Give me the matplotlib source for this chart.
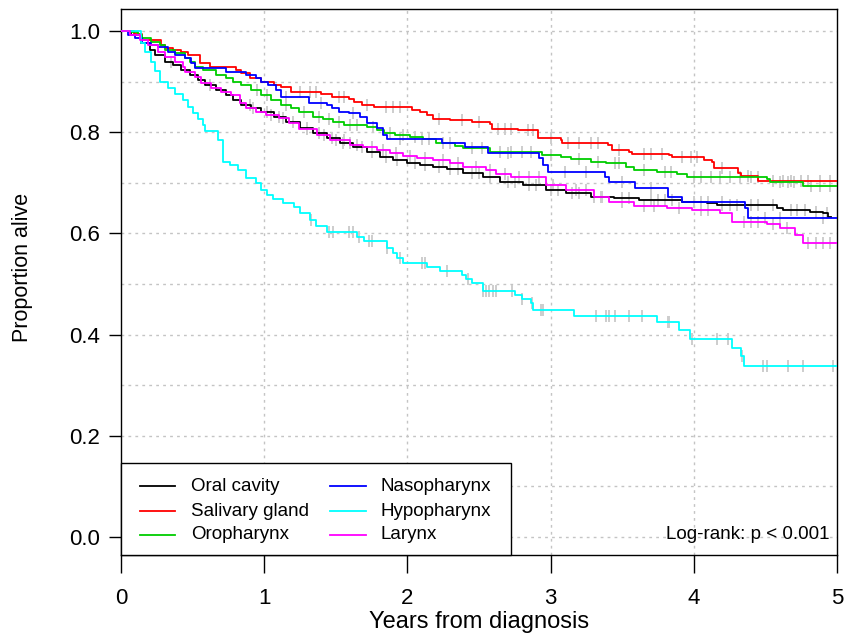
import numpy as np
import matplotlib
matplotlib.use("Agg")
import matplotlib.pyplot as plt
from matplotlib.patches import Rectangle

plt.rcParams['font.family'] = ['Liberation Sans', 'DejaVu Sans']

# ---- data ----
groups = ["Oral cavity", "Salivary gland", "Oropharynx", "Nasopharynx", "Hypopharynx", "Larynx"]
colors = ["#000000", "#FF0000", "#00CD00", "#0000FF", "#00FFFF", "#FF00FF"]

oral_t = [0, 0.07, 0.14, 0.20, 0.24, 0.31, 0.36, 0.42, 0.48, 0.54, 0.59, 0.66, 0.73, 0.78, 0.84, 0.91, 0.98,
          1.07, 1.15, 1.25, 1.34, 1.44, 1.53, 1.62, 1.72, 1.81, 1.90, 2.00, 2.09, 2.18, 2.28, 2.39, 2.53, 2.65,
          2.81, 2.97, 3.11, 3.28, 3.44, 3.62, 3.92, 4.09, 4.16, 4.58, 4.62, 4.81, 4.90, 4.94]
oral_s = [1.0, 0.992, 0.976, 0.962, 0.952, 0.939, 0.933, 0.923, 0.913, 0.903, 0.893, 0.883, 0.874, 0.864, 0.854,
          0.848, 0.840, 0.830, 0.820, 0.808, 0.798, 0.789, 0.779, 0.771, 0.761, 0.751, 0.745, 0.739, 0.735, 0.731,
          0.727, 0.719, 0.711, 0.702, 0.696, 0.686, 0.680, 0.672, 0.670, 0.666, 0.662, 0.660, 0.656, 0.650, 0.646,
          0.642, 0.640, 0.632]
oral_end = 4.96

saliv_t = [0, 0.09, 0.15, 0.28, 0.31, 0.36, 0.42, 0.47, 0.55, 0.62, 0.80, 0.84, 0.90, 0.98, 1.07, 1.12, 1.19,
           1.40, 1.47, 1.59, 1.63, 1.68, 1.77, 2.03, 2.09, 2.14, 2.18, 2.30, 2.45, 2.58, 2.59, 2.77, 2.91, 3.07,
           3.08, 3.40, 3.43, 3.55, 3.57, 3.83, 3.85, 4.07, 4.13, 4.14, 4.31, 4.33, 4.45]
saliv_s = [1.0, 0.994, 0.982, 0.972, 0.966, 0.962, 0.958, 0.952, 0.937, 0.929, 0.923, 0.917, 0.907, 0.899, 0.893,
           0.889, 0.879, 0.875, 0.870, 0.866, 0.860, 0.854, 0.850, 0.844, 0.840, 0.834, 0.826, 0.824, 0.820, 0.816,
           0.806, 0.804, 0.789, 0.785, 0.779, 0.775, 0.765, 0.761, 0.757, 0.755, 0.751, 0.745, 0.741, 0.729, 0.719,
           0.713, 0.703]
saliv_end = 5.0

oro_t = [0, 0.07, 0.12, 0.15, 0.21, 0.27, 0.31, 0.38, 0.45, 0.48, 0.52, 0.57, 0.66, 0.73, 0.78, 0.84, 0.91, 0.98,
         1.05, 1.12, 1.19, 1.24, 1.34, 1.41, 1.48, 1.56, 1.72, 1.79, 1.84, 1.91, 2.02, 2.11, 2.20, 2.33, 2.39, 2.58,
         2.94, 3.07, 3.14, 3.28, 3.39, 3.53, 3.58, 3.74, 3.88, 3.95, 4.51, 4.53, 4.76]
oro_s = [1.0, 0.998, 0.992, 0.986, 0.978, 0.972, 0.962, 0.957, 0.947, 0.939, 0.929, 0.923, 0.913, 0.907, 0.899,
         0.893, 0.883, 0.874, 0.864, 0.854, 0.848, 0.840, 0.830, 0.826, 0.820, 0.814, 0.810, 0.804, 0.798, 0.794,
         0.790, 0.786, 0.779, 0.773, 0.769, 0.761, 0.755, 0.751, 0.747, 0.741, 0.739, 0.731, 0.725, 0.721, 0.718,
         0.711, 0.708, 0.702, 0.694]
oro_end = 5.0

naso_t = [0, 0.05, 0.10, 0.15, 0.21, 0.26, 0.33, 0.38, 0.45, 0.49, 0.52, 0.73, 0.87, 0.94, 0.98, 1.03, 1.08, 1.12,
          1.31, 1.44, 1.47, 1.52, 1.59, 1.67, 1.72, 1.79, 1.83, 1.86, 2.24, 2.40, 2.56, 2.92, 2.95, 2.98, 3.38, 3.41,
          3.59, 3.82, 3.92, 4.36, 4.38]
naso_s = [1.0, 0.992, 0.986, 0.976, 0.972, 0.968, 0.958, 0.952, 0.947, 0.937, 0.927, 0.919, 0.913, 0.907, 0.899,
          0.893, 0.883, 0.870, 0.858, 0.854, 0.848, 0.840, 0.838, 0.830, 0.818, 0.808, 0.794, 0.787, 0.779, 0.771,
          0.759, 0.749, 0.735, 0.721, 0.711, 0.701, 0.689, 0.672, 0.662, 0.650, 0.630]
naso_end = 5.0

hypo_t = [0, 0.14, 0.17, 0.21, 0.24, 0.27, 0.33, 0.38, 0.43, 0.47, 0.50, 0.54, 0.57, 0.59, 0.68, 0.71, 0.76, 0.82,
          0.87, 0.94, 0.98, 1.02, 1.06, 1.13, 1.21, 1.25, 1.32, 1.36, 1.44, 1.65, 1.70, 1.86, 1.90, 1.93, 1.97, 2.14,
          2.23, 2.38, 2.41, 2.45, 2.53, 2.75, 2.80, 2.86, 2.88, 3.16, 3.74, 3.90, 3.97, 4.27, 4.33, 4.35]
hypo_s = [1.0, 0.976, 0.958, 0.939, 0.920, 0.899, 0.887, 0.875, 0.864, 0.850, 0.838, 0.826, 0.814, 0.802, 0.785,
          0.741, 0.735, 0.725, 0.709, 0.700, 0.686, 0.676, 0.668, 0.660, 0.652, 0.640, 0.626, 0.615, 0.603, 0.593,
          0.585, 0.571, 0.561, 0.552, 0.542, 0.534, 0.526, 0.518, 0.510, 0.502, 0.487, 0.478, 0.470, 0.462, 0.449,
          0.437, 0.425, 0.409, 0.391, 0.373, 0.358, 0.338]
hypo_end = 5.0

lar_t = [0, 0.06, 0.13, 0.19, 0.26, 0.31, 0.38, 0.43, 0.45, 0.52, 0.56, 0.63, 0.70, 0.77, 0.83, 0.87, 0.94, 1.01,
         1.10, 1.17, 1.24, 1.37, 1.46, 1.60, 1.69, 1.79, 1.88, 1.97, 2.07, 2.18, 2.30, 2.39, 2.55, 2.62, 2.72, 2.97,
         3.11, 3.30, 3.41, 3.58, 3.81, 3.99, 4.18, 4.27, 4.51, 4.60, 4.71, 4.76]
lar_s = [1.0, 0.992, 0.982, 0.972, 0.958, 0.949, 0.939, 0.929, 0.919, 0.909, 0.897, 0.887, 0.879, 0.874, 0.858,
         0.848, 0.840, 0.834, 0.828, 0.818, 0.806, 0.794, 0.785, 0.775, 0.771, 0.765, 0.759, 0.753, 0.749, 0.745,
         0.739, 0.731, 0.725, 0.718, 0.711, 0.696, 0.686, 0.672, 0.662, 0.654, 0.650, 0.646, 0.640, 0.623, 0.619,
         0.611, 0.597, 0.581]
lar_end = 5.0

# censoring times (approximate, read from grey tick marks)
oral_c = [0.35, 0.62, 0.90, 1.02, 1.10, 1.20, 1.30, 1.38, 1.47, 1.55, 1.60, 1.68, 1.75, 1.85, 1.93, 2.05, 2.12,
          2.22, 2.30, 2.35, 2.45, 2.50, 2.58, 2.70, 2.75, 2.85, 2.90, 3.00, 3.05, 3.15, 3.20, 3.30, 3.35, 3.50, 3.55,
          3.70, 3.75, 3.80, 3.85, 4.00, 4.05, 4.20, 4.25, 4.30, 4.40, 4.45, 4.55, 4.68, 4.72, 4.78, 4.85, 4.93]
saliv_c = [1.25, 1.32, 1.36, 1.52, 1.56, 1.72, 1.85, 1.90, 1.95, 2.22, 2.38, 2.50, 2.63, 2.68, 2.72, 2.84, 2.88,
           3.00, 3.12, 3.20, 3.28, 3.33, 3.48, 3.65, 3.70, 3.78, 3.92, 3.98, 4.02, 4.20, 4.38, 4.55, 4.62, 4.68,
           4.75, 4.80, 4.88, 4.95]
oro_c = [0.95, 1.02, 1.15, 1.28, 1.38, 1.45, 1.52, 1.60, 1.65, 1.76, 1.88, 1.97, 2.05, 2.15, 2.25, 2.45, 2.52,
         2.65, 2.72, 2.80, 2.86, 3.00, 3.20, 3.33, 3.45, 3.48, 3.65, 3.80, 3.84, 4.00, 4.05, 4.12, 4.18, 4.25, 4.32,
         4.40, 4.45, 4.60, 4.66, 4.70, 4.82, 4.88, 4.95]
naso_c = [1.15, 1.40, 1.62, 1.95, 2.10, 2.30, 2.70, 3.10, 3.25, 3.50, 3.70, 4.10, 4.20, 4.50, 4.60, 4.90]
hypo_c = [1.33, 1.45, 1.48, 1.59, 1.62, 1.66, 1.73, 1.75, 1.86, 1.95, 2.10, 2.12, 2.28, 2.42, 2.53, 2.55, 2.57,
          2.60, 2.62, 2.73, 2.80, 2.87, 2.93, 2.95, 3.32, 3.39, 3.41, 3.45, 3.55, 3.64, 3.82, 3.83, 3.99, 4.16,
          4.24, 4.34, 4.48, 4.51, 4.66, 4.76, 4.97]
lar_c = [0.92, 1.05, 1.13, 1.30, 1.42, 1.50, 1.56, 1.65, 1.75, 1.83, 1.92, 2.02, 2.12, 2.25, 2.35, 2.48, 2.58,
         2.68, 2.78, 2.85, 2.92, 3.02, 3.18, 3.25, 3.36, 3.50, 3.65, 3.72, 3.90, 4.05, 4.10, 4.35, 4.40, 4.45,
         4.55, 4.65, 4.80, 4.85, 4.90, 4.95]

curves = [(oral_t, oral_s, oral_end, oral_c), (saliv_t, saliv_s, saliv_end, saliv_c),
          (oro_t, oro_s, oro_end, oro_c), (naso_t, naso_s, naso_end, naso_c),
          (hypo_t, hypo_s, hypo_end, hypo_c), (lar_t, lar_s, lar_end, lar_c)]

xticks = [0, 1, 2, 3, 4, 5]
yticks = [0.0, 0.2, 0.4, 0.6, 0.8, 1.0]
ytick_labels = ["0.0", "0.2", "0.4", "0.6", "0.8", "1.0"]
pval_text = "Log-rank: p < 0.001"

# ---- figure ----
fig = plt.figure(figsize=(8.45, 6.35), dpi=100)
ax = fig.add_axes([121 / 845, 1 - 555 / 635, (837 - 121) / 845, (555 - 9) / 635])
ax.set_xlim(0, 5)
ax.set_ylim(-0.0356, 1.0435)

# grid
grid_kw = dict(color="#c4c4c4", lw=1.0, ls=(0, (2, 3)), zorder=0)
for gx in [1, 2, 3, 4]:
    ax.axvline(gx, **grid_kw)
for gy in np.arange(0, 11) / 10:
    ax.axhline(gy, **grid_kw)

def step_value(t, s, x):
    idx = np.searchsorted(np.asarray(t), np.asarray(x), side="right") - 1
    return np.asarray(s)[idx]

# censor marks first (grey), then lines
for (t, s, end, c) in curves:
    c_arr = np.asarray(c)
    ax.plot(c_arr, step_value(t, s, c_arr), ls="none", marker="|", ms=9, mew=1.4,
            color="#cdcdcd", zorder=2, clip_on=True)

for (t, s, end, c), col in zip(curves, colors):
    tt = list(t) + [end]
    ss = list(s) + [s[-1]]
    ax.step(tt, ss, where="post", color=col, lw=1.3, zorder=3)

# axes styling
for sp in ax.spines.values():
    sp.set_color("black")
    sp.set_linewidth(1.0)
ax.set_xticks(xticks)
ax.set_xticklabels([str(x) for x in xticks], fontsize=16)
ax.set_yticks(yticks)
ax.set_yticklabels(ytick_labels, fontsize=16)
ax.tick_params(axis="x", length=13, width=1, pad=11)
ax.tick_params(axis="y", length=9, width=1, pad=6)
ax.set_xlabel("Years from diagnosis", fontsize=17)
ax.xaxis.set_label_coords(0.5, -0.102)
ax.set_ylabel("Proportion alive", fontsize=15.5)
ax.yaxis.set_label_coords(-0.123, 0.527)

# legend (manual, R-style box)
ax.add_patch(Rectangle((0, -0.0356), 2.72, 0.1456 + 0.0356, transform=ax.transData,
                       facecolor="white", edgecolor="black", lw=1.0, zorder=5, clip_on=False))
row_y = [0.100, 0.051, 0.004]
col_line = [(0.133, 0.377, 0.490), (1.46, 1.71, 1.815)]
for i, (name, col) in enumerate(zip(groups, colors)):
    cidx, ridx = divmod(i, 3)
    x0, x1, xt = col_line[cidx]
    y = row_y[ridx]
    ax.plot([x0, x1], [y, y], color=col, lw=1.3, zorder=6)
    ax.text(xt, y, name, fontsize=13.5, va="center", ha="left", zorder=6)

ax.text(4.95, 0.004, pval_text, fontsize=13.5, ha="right", va="center", zorder=6)

fig.savefig("out.png", dpi=100)
